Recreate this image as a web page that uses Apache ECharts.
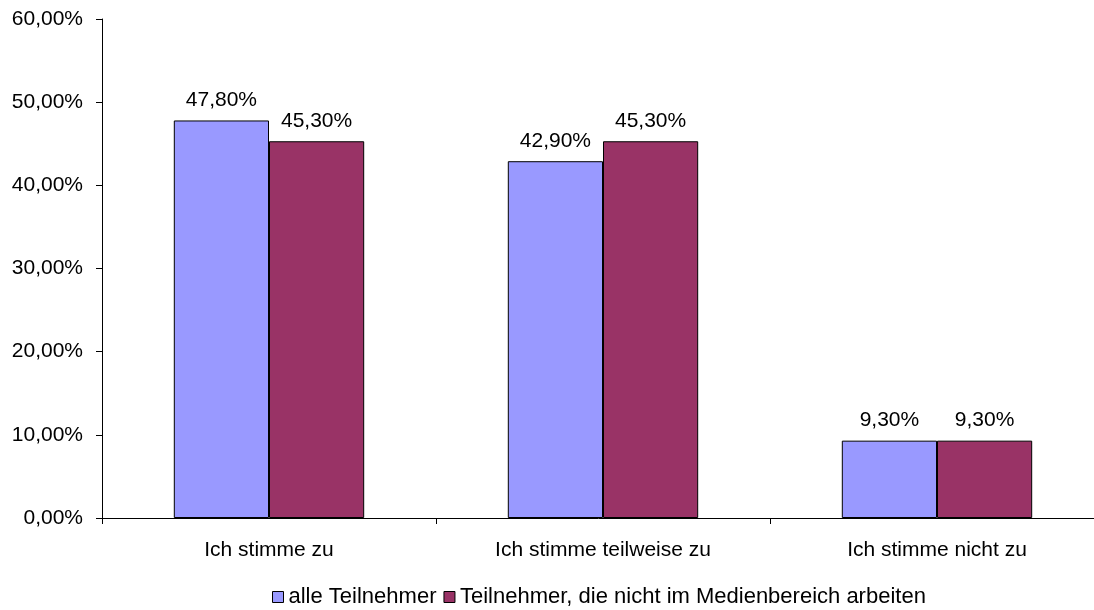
<!DOCTYPE html>
<html>
<head>
<meta charset="utf-8">
<script src="https://cdn.jsdelivr.net/npm/echarts@6/dist/echarts.min.js"></script>
<style>html,body{margin:0;padding:0;background:#fff;}#c{width:1094px;height:610px;}</style>
</head>
<body>
<div id="c"></div>
<script>
const categories = ['Ich stimme zu', 'Ich stimme teilweise zu', 'Ich stimme nicht zu'];
const seriesNames = ['alle Teilnehmer', 'Teilnehmer, die nicht im Medienbereich arbeiten'];
const allParticipants = [47.8, 42.9, 9.3];
const nonMedia = [45.3, 45.3, 9.3];
const colors = ['#9999FF', '#993366'];

const fmt = v => v.toFixed(2).replace('.', ',') + '%';
const font = 'Liberation Sans, Arial, sans-serif';
const fs = 21;

const chart = echarts.init(document.getElementById('c'));
const mk = (name, data, color) => ({
  name, type: 'bar', data,
  barGap: 0, barCategoryGap: '43%',
  itemStyle: { color, borderColor: '#000', borderWidth: 1 },
  label: { show: true, position: 'top', distance: 10, color: '#000', fontSize: fs, fontFamily: font,
           formatter: p => fmt(p.value) }
});
chart.setOption({
  animation: false,
  textStyle: { fontFamily: font },
  grid: { left: 102, right: -10, top: 19, bottom: 92, outerBoundsMode: 'none', containLabel: false },
  legend: {
    top: 586, left: 272, padding: 0, itemWidth: 11, itemHeight: 11, itemGap: 7,
    icon: 'rect',
    textStyle: { fontSize: 22, color: '#000', fontFamily: font, padding: [0, 0, 0, 0] },
    data: seriesNames.map((n, i) => ({ name: n, itemStyle: { color: colors[i], borderColor: '#000', borderWidth: 1 } }))
  },
  xAxis: {
    type: 'category', data: categories,
    axisLine: { lineStyle: { color: '#000', width: 1 } },
    axisTick: { show: true, length: 6, alignWithLabel: false, lineStyle: { color: '#000' } },
    axisLabel: { color: '#000', fontSize: fs, margin: 22, fontFamily: font }
  },
  yAxis: {
    type: 'value', min: 0, max: 60, interval: 10,
    axisLine: { show: true, lineStyle: { color: '#000', width: 1 } },
    axisTick: { show: true, length: 6, lineStyle: { color: '#000' } },
    splitLine: { show: false },
    axisLabel: { color: '#000', fontSize: fs, margin: 19, fontFamily: font, formatter: v => fmt(v) }
  },
  series: [mk(seriesNames[0], allParticipants, colors[0]), mk(seriesNames[1], nonMedia, colors[1])]
});
</script>
</body>
</html>
